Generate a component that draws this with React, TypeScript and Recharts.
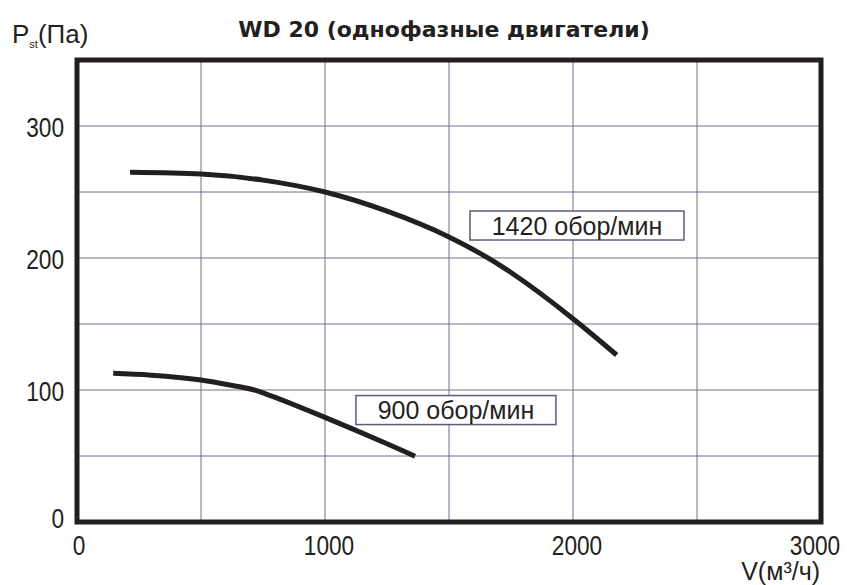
import React from 'react';
import { LineChart, Line, XAxis, YAxis, CartesianGrid, ReferenceArea, ReferenceDot } from 'recharts';

const xTicks = [0, 500, 1000, 1500, 2000, 2500, 3000];
const yTicks = [0, 50, 100, 150, 200, 250, 300, 350];

const flow1420 = [214, 500, 750, 1000, 1250, 1500, 1750, 2000, 2176];
const press1420 = [265, 263.6, 259, 250, 235.5, 216, 189, 154, 126.5];
const flow900 = [146, 300, 500, 650, 750, 1000, 1250, 1363];
const press900 = [112.6, 111.2, 107.6, 102.6, 97.9, 79.3, 59.3, 49.8];

const labelTexts = ['1420 обор/мин', '900 обор/мин'];
const labelX = [2016, 1528];
const labelY = [224.6, 84.8];

const series1420 = flow1420.map((v, i) => ({ v, p: press1420[i] }));
const series900 = flow900.map((v, i) => ({ v, p: press900[i] }));

const INK = '#231f20';
const GRID = '#6e6e92';
const TICK_FONT = '"Liberation Sans", Arial, sans-serif';
const LABEL_FONT = '"Liberation Sans", "Open Sans", sans-serif';

const YTick = (props: any) => {
  const { x, y, payload } = props;
  if (payload.value % 100 !== 0) return <g />;
  const s = String(payload.value);
  return (
    <text
      x={x}
      y={y + (payload.value === 0 ? 6 : 11)}
      textAnchor="end"
      fontFamily={TICK_FONT}
      fontSize={27}
      fill={INK}
      textLength={s.length * 12.6}
      lengthAdjust="spacingAndGlyphs"
    >
      {s}
    </text>
  );
};

const XTick = (props: any) => {
  const { x, y, payload } = props;
  if (payload.value % 1000 !== 0) return <g />;
  const s = String(payload.value);
  const shift = payload.value === 3000 ? -6 : payload.value === 0 ? 2 : 4;
  return (
    <text
      x={x + shift}
      y={y + 33}
      textAnchor="middle"
      fontFamily={TICK_FONT}
      fontSize={27}
      fill={INK}
      textLength={s.length * 12.6}
      lengthAdjust="spacingAndGlyphs"
    >
      {s}
    </text>
  );
};

const BoxLabel = (props: any) => {
  const { cx, cy, text } = props;
  const w = text.length > 12 ? 214 : 200;
  return (
    <g>
      <rect x={cx - w / 2} y={cy - 14.5} width={w} height={29} fill="#ffffff" stroke="#5b5b7b" strokeWidth={1.5} />
      <text x={cx} y={cy + 9} textAnchor="middle" fontFamily={LABEL_FONT} fontSize={25} fill={INK}>
        {text}
      </text>
    </g>
  );
};

export default function App() {
  return (
    <div style={{ position: 'absolute', left: 0, top: 0, width: 854, height: 585, background: '#fff' }}>
      <LineChart width={854} height={585} margin={{ top: 60, right: 33, bottom: 0, left: 0 }}>
        <CartesianGrid stroke={GRID} strokeWidth={1} />
        <XAxis
          type="number"
          dataKey="v"
          domain={[0, 3000]}
          ticks={xTicks}
          height={63}
          axisLine={false}
          tickLine={false}
          tickSize={0}
          tickMargin={0}
          tick={<XTick />}
          allowDataOverflow
        />
        <YAxis
          type="number"
          dataKey="p"
          domain={[0, 350]}
          ticks={yTicks}
          width={77}
          axisLine={false}
          tickLine={false}
          tickSize={0}
          tickMargin={13}
          tick={<YTick />}
          allowDataOverflow
        />
        <ReferenceArea x1={0} x2={3000} y1={0} y2={350} fill="none" stroke={INK} strokeWidth={5} ifOverflow="visible" />
        <Line data={series1420} dataKey="p" type="natural" stroke={INK} strokeWidth={5} dot={false} isAnimationActive={false} />
        <Line data={series900} dataKey="p" type="natural" stroke={INK} strokeWidth={5} dot={false} isAnimationActive={false} />
        {labelTexts.map((t, i) => (
          <ReferenceDot key={t} x={labelX[i]} y={labelY[i]} r={0} ifOverflow="visible" shape={(p: any) => <BoxLabel {...p} text={t} />} />
        ))}
      </LineChart>
      <svg width={854} height={585} style={{ position: 'absolute', left: 0, top: 0, pointerEvents: 'none' }}>
        <text x={444} y={37} textAnchor="middle" fontFamily='"DejaVu Sans", sans-serif' fontWeight="bold" fontSize={22} fill={INK}>
          WD 20 (однофазные двигатели)
        </text>
        <text x={12} y={43} fontFamily={TICK_FONT} fontSize={26} fill={INK}>
          P<tspan fontSize={11} dy={5}>st</tspan><tspan dy={-5}>(Па)</tspan>
        </text>
        <text x={820} y={580} textAnchor="end" fontFamily={TICK_FONT} fontSize={25} fill={INK}>
          V(м³/ч)
        </text>
      </svg>
    </div>
  );
}
